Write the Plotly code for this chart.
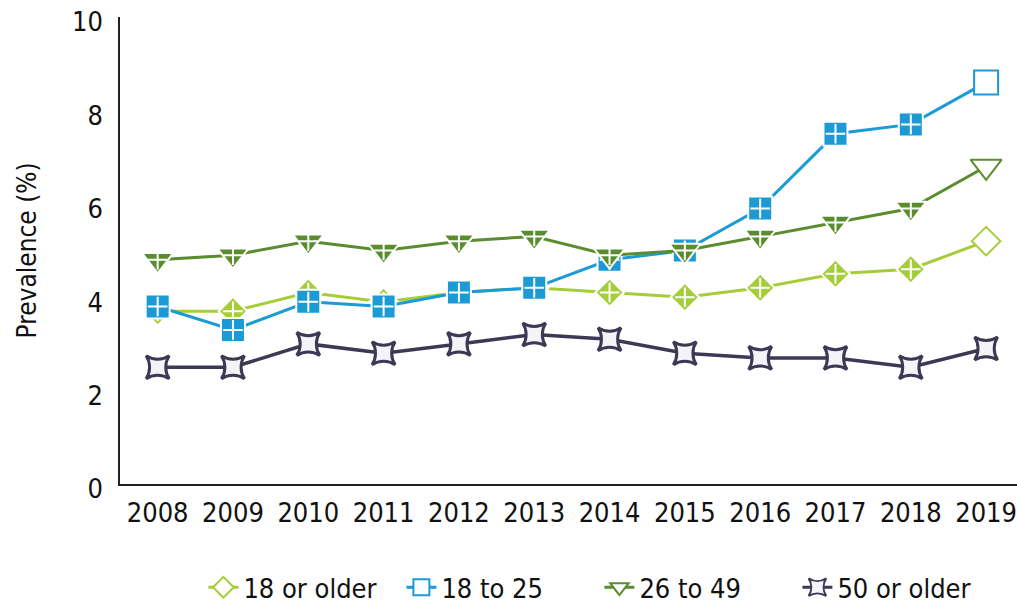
import plotly.graph_objects as go

years = [2008, 2009, 2010, 2011, 2012, 2013, 2014, 2015, 2016, 2017, 2018, 2019]

age_18_plus = [3.7, 3.7, 4.1, 3.9, 4.1, 4.2, 4.1, 4.0, 4.2, 4.5, 4.6, 5.2]
age_18_25 = [3.8, 3.3, 3.9, 3.8, 4.1, 4.2, 4.8, 5.0, 5.9, 7.5, 7.7, 8.6]
age_26_49 = [4.8, 4.9, 5.2, 5.0, 5.2, 5.3, 4.9, 5.0, 5.3, 5.6, 5.9, 6.8]
age_50_plus = [2.5, 2.5, 3.0, 2.8, 3.0, 3.2, 3.1, 2.8, 2.7, 2.7, 2.5, 2.9]

series_names = ["18 or older", "18 to 25", "26 to 49", "50 or older"]

FONT = "Liberation Sans Narrow, Arial Narrow, DejaVu Sans Condensed, Roboto Condensed, Liberation Sans, sans-serif"

# name, values, colour, marker symbol, size
styles = [
    (series_names[0], age_18_plus, "#a5cd39", "diamond", 22),
    (series_names[1], age_18_25, "#1b9ad6", "square", 24),
    (series_names[2], age_26_49, "#5b8d2f", "triangle-down", 27),
]

fig = go.Figure()

for name, vals, col, sym, size in styles:
    n = len(vals)
    # solid markers with a white cross; the latest year is drawn open
    fills = [col] * (n - 1) + ["white"]
    edges = ["white"] * (n - 1) + [col]
    fig.add_trace(go.Scatter(
        x=years, y=vals, mode="lines+markers", name=name, showlegend=False,
        line=dict(color=col, width=3),
        marker=dict(symbol=sym, size=size, color=fills,
                    line=dict(color=edges, width=2)),
        cliponaxis=False,
    ))
    fig.add_trace(go.Scatter(
        x=years[:-1], y=vals[:-1], mode="markers", showlegend=False, hoverinfo="skip",
        marker=dict(symbol="cross-thin", size=14, line=dict(color="white", width=2)),
        cliponaxis=False,
    ))

fig.add_trace(go.Scatter(
    x=years, y=age_50_plus, mode="lines+markers", name=series_names[3], showlegend=False,
    line=dict(color="#3b3954", width=3.5),
    marker=dict(symbol="star-square", size=21, color="#f4f3f8",
                line=dict(color="#3b3954", width=3)),
    cliponaxis=False,
))

# legend entries use the open marker style
legend_styles = [
    (series_names[0], "#a5cd39", "diamond", "white"),
    (series_names[1], "#1b9ad6", "square", "white"),
    (series_names[2], "#5b8d2f", "triangle-down", "white"),
    (series_names[3], "#3b3954", "star-square", "#f4f3f8"),
]
for name, col, sym, fill in legend_styles:
    fig.add_trace(go.Scatter(
        x=[None], y=[None], mode="lines+markers", name=name,
        line=dict(color=col, width=3),
        marker=dict(symbol=sym, size=16, color=fill, line=dict(color=col, width=2)),
    ))

fig.update_layout(
    width=1017, height=605,
    margin=dict(l=120, r=0, t=17, b=121, autoexpand=False),
    paper_bgcolor="white", plot_bgcolor="white",
    font=dict(family=FONT, size=27, color="#111111"),
    showlegend=True,
    legend=dict(orientation="h", x=0.2, xref="container", xanchor="left",
                y=-0.222, yanchor="middle", font=dict(size=27),
                itemwidth=30, tracegroupgap=0, entrywidth=153),
    xaxis=dict(range=[2007.5, 2019.41], tickvals=years, ticktext=[str(y) for y in years],
               showgrid=False, zeroline=False, showline=True, linecolor="#222222",
               linewidth=1.5, ticks="", ticklabelstandoff=4, ticklabeloverflow="allow",
               fixedrange=True),
    yaxis=dict(range=[0, 10], dtick=2, showgrid=False, zeroline=False, showline=True,
               linecolor="#222222", linewidth=1.5, ticks="", ticklabelstandoff=10,
               ticklabelshift=5, ticklabeloverflow="allow"),
    annotations=[dict(text="Prevalence (%)", textangle=-90, showarrow=False,
                      xref="paper", yref="paper", x=-0.1037, y=0.5,
                      xanchor="center", yanchor="middle", font=dict(size=26))],
)

fig.write_html("out.html")
